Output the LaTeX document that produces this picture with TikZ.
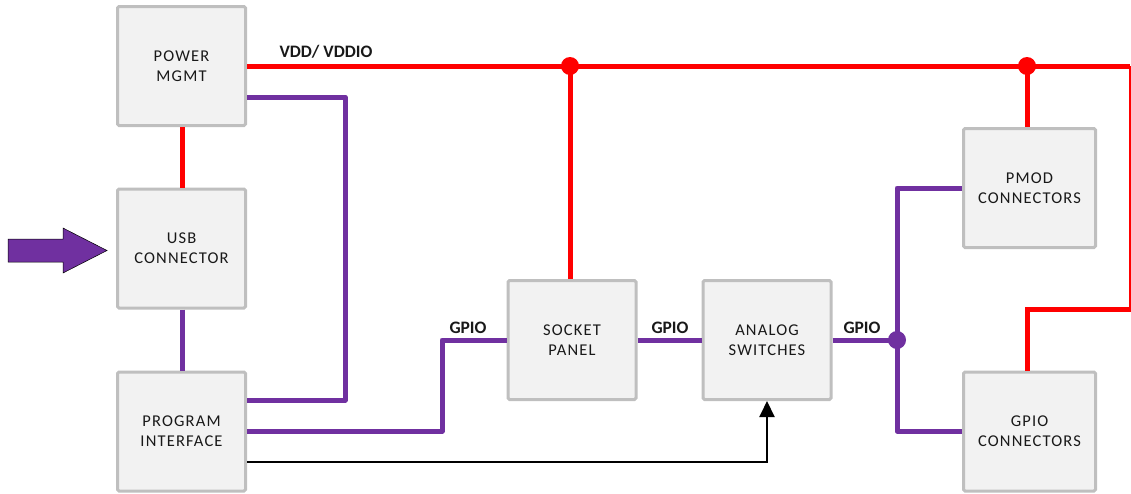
\documentclass[tikz,border=0pt]{standalone}
\usepackage{fontspec}
\setmainfont{Carlito}
\newfontfamily\boxfont{Carlito}[LetterSpace=7]
\usetikzlibrary{arrows.meta}
\definecolor{boxfill}{HTML}{F2F2F2}
\definecolor{boxline}{HTML}{BFBFBF}
\definecolor{pur}{HTML}{7030A0}
\definecolor{rd}{HTML}{FF0000}
\begin{document}
\begin{tikzpicture}[x=1pt,y=-1pt,
  blk/.style={draw=boxline, fill=boxfill, line width=3pt, rounded corners=1.5pt,
    minimum width=128pt, minimum height=119pt, align=center, inner sep=0pt,
    font=\boxfont\fontsize{16.5}{20}\selectfont, text=black!90},
  redln/.style={draw=rd, line width=5pt},
  purln/.style={draw=pur, line width=5pt},
  lbl/.style={font=\bfseries\fontsize{17.5}{20}\selectfont, text=black!90, inner sep=0pt},
  rdot/.style={circle, fill=rd, minimum size=18pt, inner sep=0pt},
  pdot/.style={circle, fill=pur, minimum size=18pt, inner sep=0pt}
]
\useasboundingbox (0,0) rectangle (1131,493);
\coordinate (pmc) at (181.5,66);
\coordinate (usbc) at (181.5,248.5);
\coordinate (progc) at (181.5,431.5);
\coordinate (sockc) at (572,340);
\coordinate (anac) at (767,340);
\coordinate (pmodc) at (1029.5,188);
\coordinate (gpiocc) at (1029.5,431.5);

\node[blk] (pm) at (pmc) {POWER\\MGMT};
\node[blk] (usb) at (usbc) {USB\\CONNECTOR};
\node[blk] (prog) at (progc) {PROGRAM\\INTERFACE};
\node[blk] (sock) at (sockc) {SOCKET\\PANEL};
\node[blk] (ana) at (anac) {ANALOG\\SWITCHES};
\node[blk, minimum width=132pt] (pmod) at (pmodc) {PMOD\\CONNECTORS};
\node[blk, minimum width=132pt] (gpioc) at (gpiocc) {GPIO\\CONNECTORS};

% red power network
\coordinate (rtr) at (1130,66);
\coordinate (rbr) at (1130,309);
\coordinate (rbl) at (1027,309);
\node[rdot] (d1) at (570,66) {};
\node[rdot] (d2) at (1027,66) {};
\draw[redln] (pm.east) -- (rtr);
\draw[draw=rd, line width=1.2pt] (rtr) -- (rbr);
\draw[redln, line cap=rect] (rbr) -- (rbl);
\draw[redln] (rbl) -- (gpioc.north -| rbl);
\draw[redln] (d1.center) -- (sock.north -| d1);
\draw[redln] (d2.center) -- (pmod.north -| d2);
\draw[redln] (pm.south -| 182,0) -- (usb.north -| 182,0);

% purple
\draw[purln] (usb.south -| 182,0) -- (prog.north -| 182,0);
\coordinate (c1) at (345,97);
\coordinate (c2) at (345,400);
\draw[purln, line join=round] (pm.east |- c1) -- (c1) -- (c2) -- (prog.east |- c2);
\coordinate (c3) at (442,431);
\coordinate (c4) at (442,340);
\draw[purln, line join=round] (prog.east |- c3) -- (c3) -- (c4) -- (sock.west |- c4);
\draw[purln] (sock.east) -- (ana.west);
\coordinate (j1) at (897,340);
\coordinate (c5) at (897,188);
\coordinate (c6) at (897,431);
\draw[purln] (ana.east) -- (j1);
\draw[purln, line join=round] (pmod.west |- c5) -- (c5) -- (c6) -- (gpioc.west |- c6);
\node[pdot] (d3) at (j1) {};

% black control arrow
\coordinate (c7) at (767,462);
\draw[line width=2pt, -{Triangle[length=16pt,width=15pt]}] (prog.east |- c7) -- (c7) -- (ana.south);

% input arrow
\coordinate (tip) at (107,250.5);
\draw[fill=pur, draw=black, line width=0.5pt]
  (8,239) -- (63,239) -- (63,228) -- (tip) -- (63,273) -- (63,262) -- (8,262) -- cycle;

% labels
\node[lbl] (vdd) at (326,52) {VDD/ VDDIO};
\node[lbl] (g1) at (468,328) {GPIO};
\node[lbl] (g2) at (670,328) {GPIO};
\node[lbl] (g3) at (862,328) {GPIO};
\end{tikzpicture}
\end{document}
